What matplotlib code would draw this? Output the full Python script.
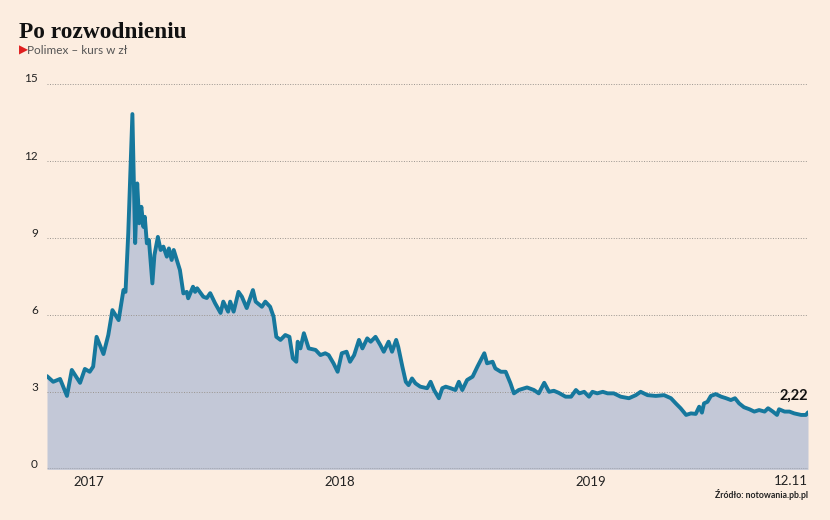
import matplotlib
matplotlib.use("Agg")
import matplotlib.pyplot as plt
import matplotlib.dates as mdates
import numpy as np
import pandas as pd

# Polimex share price (zl)
dates = [
    "2016-11-02", "2016-11-11", "2016-11-21", "2016-12-01", "2016-12-08", "2016-12-20",
    "2016-12-27", "2017-01-03", "2017-01-08", "2017-01-13", "2017-01-23", "2017-01-30",
    "2017-02-05", "2017-02-14", "2017-02-21", "2017-02-24", "2017-02-26", "2017-02-28",
    "2017-03-03", "2017-03-06", "2017-03-10", "2017-03-13", "2017-03-16", "2017-03-19",
    "2017-03-22", "2017-03-24", "2017-03-27", "2017-03-30", "2017-04-04", "2017-04-07",
    "2017-04-12", "2017-04-16", "2017-04-20", "2017-04-25", "2017-04-28", "2017-05-02",
    "2017-05-05", "2017-05-11", "2017-05-14", "2017-05-19", "2017-05-24", "2017-05-26",
    "2017-06-02", "2017-06-05", "2017-06-08", "2017-06-17", "2017-06-22", "2017-06-27",
    "2017-07-04", "2017-07-12", "2017-07-16", "2017-07-23", "2017-07-26", "2017-07-31",
    "2017-08-07", "2017-08-12", "2017-08-19", "2017-08-28", "2017-09-01", "2017-09-10",
    "2017-09-15", "2017-09-22", "2017-09-27", "2017-10-01", "2017-10-07", "2017-10-14",
    "2017-10-20", "2017-10-25", "2017-10-30", "2017-11-01", "2017-11-05", "2017-11-10",
    "2017-11-17", "2017-11-27", "2017-12-04", "2017-12-11", "2017-12-16", "2017-12-23",
    "2017-12-29", "2018-01-04", "2018-01-11", "2018-01-16", "2018-01-22", "2018-01-29",
    "2018-02-03", "2018-02-10", "2018-02-15", "2018-02-22", "2018-03-01", "2018-03-06",
    "2018-03-13", "2018-03-18", "2018-03-24", "2018-03-27", "2018-04-02", "2018-04-07",
    "2018-04-11", "2018-04-16", "2018-04-21", "2018-04-28", "2018-05-08", "2018-05-13",
    "2018-05-18", "2018-05-25", "2018-05-30", "2018-06-04", "2018-06-11", "2018-06-18",
    "2018-06-23", "2018-06-28", "2018-07-05", "2018-07-13", "2018-07-20", "2018-07-25",
    "2018-07-30", "2018-08-03", "2018-08-11", "2018-08-15", "2018-08-23", "2018-08-30",
    "2018-09-06", "2018-09-11", "2018-09-18", "2018-09-30", "2018-10-10", "2018-10-17",
    "2018-10-25", "2018-11-01", "2018-11-08", "2018-11-15", "2018-11-25", "2018-12-03",
    "2018-12-10", "2018-12-15", "2018-12-22", "2018-12-29", "2019-01-03", "2019-01-10",
    "2019-01-18", "2019-01-25", "2019-02-03", "2019-02-13", "2019-02-25", "2019-03-07",
    "2019-03-14", "2019-03-24", "2019-04-05", "2019-04-17", "2019-04-27", "2019-05-04",
    "2019-05-11", "2019-05-19", "2019-05-26", "2019-06-02", "2019-06-07", "2019-06-11",
    "2019-06-14", "2019-06-19", "2019-06-24", "2019-07-01", "2019-07-09", "2019-07-16",
    "2019-07-23", "2019-07-29", "2019-08-04", "2019-08-11", "2019-08-19", "2019-08-26",
    "2019-09-02", "2019-09-10", "2019-09-15", "2019-09-22", "2019-09-28", "2019-10-01",
    "2019-10-09", "2019-10-16", "2019-10-23", "2019-11-02", "2019-11-09", "2019-11-12",
]
prices = [
    3.63, 3.41, 3.52, 2.86, 3.87, 3.37,
    3.91, 3.80, 4.00, 5.16, 4.49, 5.23,
    6.20, 5.81, 6.98, 6.91, 8.03, 9.20,
    11.50, 13.83, 8.81, 11.13, 9.58, 10.22,
    9.44, 9.83, 8.80, 8.93, 7.24, 8.34,
    9.05, 8.54, 8.67, 8.28, 8.60, 8.15,
    8.54, 8.02, 7.76, 6.85, 6.91, 6.66,
    7.11, 6.91, 7.05, 6.72, 6.67, 6.86,
    6.47, 6.09, 6.53, 6.14, 6.53, 6.14,
    6.91, 6.72, 6.28, 6.98, 6.53, 6.33,
    6.53, 6.33, 5.94, 5.16, 5.04, 5.23,
    5.16, 4.32, 4.19, 4.97, 4.71, 5.30,
    4.71, 4.65, 4.45, 4.52, 4.45, 4.13,
    3.80, 4.52, 4.58, 4.19, 4.45, 5.04,
    4.71, 5.10, 4.97, 5.16, 4.84, 4.58,
    4.97, 4.58, 5.04, 4.77, 4.00, 3.41,
    3.28, 3.54, 3.35, 3.22, 3.16, 3.41,
    3.09, 2.77, 3.16, 3.22, 3.16, 3.09,
    3.41, 3.09, 3.48, 3.61, 4.00, 4.26,
    4.52, 4.13, 4.19, 3.93, 3.80, 3.80,
    3.35, 2.96, 3.09, 3.19, 3.09, 2.96,
    3.37, 3.02, 3.06, 2.98, 2.83, 2.83,
    3.09, 2.96, 3.02, 2.83, 3.02, 2.96,
    3.02, 2.96, 2.96, 2.83, 2.77, 2.89,
    3.02, 2.89, 2.86, 2.89, 2.77, 2.57,
    2.38, 2.12, 2.18, 2.16, 2.44, 2.21,
    2.57, 2.63, 2.86, 2.93, 2.83, 2.77,
    2.70, 2.77, 2.57, 2.42, 2.34, 2.25,
    2.31, 2.25, 2.38, 2.25, 2.12, 2.34,
    2.25, 2.25, 2.18, 2.12, 2.12, 2.22,
]
year_ticks = ["2017-01-01", "2018-01-01", "2019-01-01"]
year_labels = ["2017", "2018", "2019"]
y_ticks = [0, 3, 6, 9, 12, 15]
last_label = "12.11"
last_value_label = "2,22"

BG = "#fcede0"
LINE = "#16789d"
FILL = "#c3c8d7"

x = pd.to_datetime(dates)

fig = plt.figure(figsize=(8.3, 5.2), dpi=100, facecolor=BG)
ax = fig.add_axes([47 / 830, (520 - 469.4) / 520, (808 - 47) / 830, (469.4 - 84) / 520])
ax.set_facecolor(BG)

ax.fill_between(x, prices, 0, color=FILL, lw=0, zorder=1)
ax.plot(x, prices, color=LINE, lw=2.8, solid_joinstyle="round", solid_capstyle="round", zorder=3)

for v in y_ticks[1:]:
    ax.axhline(v, color="#9a958f", lw=0.7, ls=(0, (1, 1.6)), zorder=2)
ax.axhline(0, color="#333333", lw=1.0, ls=(0, (1, 0.6)), zorder=4)

ax.set_xlim(x[0], x[-1])
ax.set_ylim(0, 15)
for s in ax.spines.values():
    s.set_visible(False)

ax.set_yticks([])
for v in y_ticks:
    ax.annotate(str(v), (0, v), xycoords=("axes fraction", "data"), xytext=(-6.5, 3.6),
                textcoords="offset points", ha="right", va="center",
                fontsize=8.5, family="Lato", color="#222222")

ax.set_xticks(pd.to_datetime(year_ticks))
ax.set_xticklabels(year_labels, family="Lato", fontsize=9.5, color="#222222")
ax.tick_params(axis="x", length=0, pad=5)

ax.annotate(last_label, (1, 0), xycoords="axes fraction", xytext=(0, -8.3),
            textcoords="offset points", ha="right", va="center",
            fontsize=9.5, family="Lato", color="#222222")
ax.annotate(last_value_label, (x[-1], prices[-1]), xytext=(0, 7),
            textcoords="offset points", ha="right", va="bottom",
            fontsize=10.5, family="Lato", weight="bold", color="#111111")

fig.text(19 / 830, 1 - 37.5 / 520, "Po rozwodnieniu", family="Liberation Serif",
         weight="bold", fontsize=16.8, color="#111111", va="baseline")
fig.text(18.5 / 830, 1 - 54 / 520, "\u25B6", family="DejaVu Sans", fontsize=8.5,
         color="#e01e1e", va="baseline")
fig.text(27 / 830, 1 - 54 / 520, "Polimex \u2013 kurs w z\u0142", family="Lato",
         fontsize=8.5, color="#555555", va="baseline")
fig.text(808 / 830, 1 - 497.5 / 520, "\u0179r\u00f3d\u0142o: notowania.pb.pl", family="Lato",
         fontsize=6.3, weight="bold", color="#222222", ha="right", va="baseline")

fig.savefig("out.png", dpi=100, facecolor=BG)
